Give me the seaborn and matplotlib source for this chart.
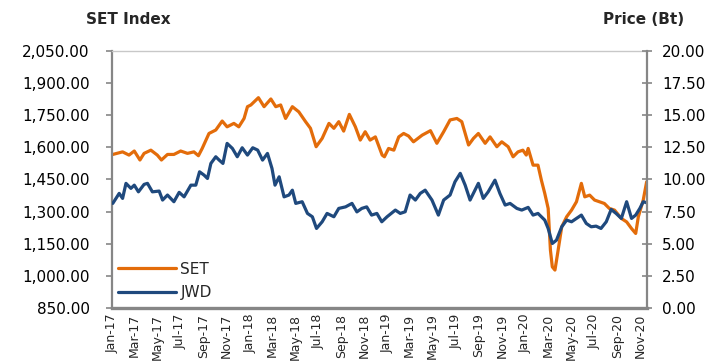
import matplotlib
matplotlib.use('Agg')
import matplotlib.pyplot as plt
import matplotlib.dates as mdates
import matplotlib.ticker as mticker
import seaborn as sns
import pandas as pd

# ---- data ----
set_dates = [
    "2017-01-03", "2017-01-29", "2017-02-15", "2017-03-01", "2017-03-16", "2017-03-27",
    "2017-04-14", "2017-05-01", "2017-05-12", "2017-05-28", "2017-06-14", "2017-07-02",
    "2017-07-20", "2017-08-06", "2017-08-18", "2017-08-28", "2017-09-15", "2017-10-03",
    "2017-10-20", "2017-11-02", "2017-11-20", "2017-12-03", "2017-12-17", "2017-12-26",
    "2018-01-04", "2018-01-24", "2018-02-08", "2018-02-26", "2018-03-11", "2018-03-24",
    "2018-04-06", "2018-04-24", "2018-05-11", "2018-05-29", "2018-06-11", "2018-06-26",
    "2018-07-12", "2018-07-30", "2018-08-12", "2018-08-25", "2018-09-07", "2018-09-22",
    "2018-10-08", "2018-10-21", "2018-11-03", "2018-11-16", "2018-11-30", "2018-12-18",
    "2018-12-24", "2019-01-04", "2019-01-18", "2019-01-31", "2019-02-13", "2019-02-26",
    "2019-03-11", "2019-04-03", "2019-04-25", "2019-05-12", "2019-05-30", "2019-06-16",
    "2019-07-04", "2019-07-17", "2019-08-04", "2019-08-17", "2019-08-30", "2019-09-17",
    "2019-09-30", "2019-10-18", "2019-10-31", "2019-11-17", "2019-11-30", "2019-12-13",
    "2019-12-26", "2020-01-04", "2020-01-09", "2020-01-22", "2020-02-04", "2020-02-13",
    "2020-02-22", "2020-03-02", "2020-03-08", "2020-03-13", "2020-03-20", "2020-03-27",
    "2020-04-07", "2020-04-20", "2020-05-03", "2020-05-16", "2020-05-29", "2020-06-07",
    "2020-06-20", "2020-07-03", "2020-07-16", "2020-07-29", "2020-08-11", "2020-08-25",
    "2020-09-12", "2020-09-26", "2020-10-09", "2020-10-20", "2020-10-27", "2020-11-09",
    "2020-11-18",
]
set_values = [
    1567, 1579, 1564, 1583, 1541, 1572,
    1587, 1564, 1541, 1567, 1567, 1583,
    1572, 1579, 1561, 1595, 1665, 1681,
    1723, 1696, 1712, 1696, 1735, 1790,
    1798, 1832, 1790, 1826, 1790, 1798,
    1735, 1790, 1766, 1720, 1689, 1603,
    1642, 1712, 1689, 1720, 1676, 1754,
    1696, 1634, 1673, 1634, 1649, 1564,
    1556, 1595, 1587, 1649, 1665, 1653,
    1626, 1657, 1678, 1619, 1673, 1728,
    1735, 1720, 1611, 1642, 1665, 1619,
    1649, 1603, 1626, 1603, 1556, 1579,
    1587, 1564, 1595, 1517, 1517, 1447,
    1385, 1315, 1120, 1042, 1027, 1104,
    1229, 1276, 1307, 1346, 1432, 1369,
    1377, 1354, 1346, 1338, 1315, 1307,
    1268, 1252, 1221, 1198, 1276, 1354,
    1439,
]

jwd_dates = [
    "2017-01-03", "2017-01-20", "2017-01-29", "2017-02-07", "2017-02-20", "2017-03-01",
    "2017-03-12", "2017-03-27", "2017-04-05", "2017-04-18", "2017-05-06", "2017-05-15",
    "2017-05-28", "2017-06-14", "2017-06-28", "2017-07-11", "2017-07-29", "2017-08-11",
    "2017-08-21", "2017-09-02", "2017-09-11", "2017-09-20", "2017-10-03", "2017-10-12",
    "2017-10-22", "2017-11-02", "2017-11-16", "2017-11-29", "2017-12-12", "2017-12-26",
    "2018-01-09", "2018-01-22", "2018-02-04", "2018-02-17", "2018-03-01", "2018-03-09",
    "2018-03-20", "2018-04-02", "2018-04-15", "2018-04-24", "2018-05-03", "2018-05-20",
    "2018-06-03", "2018-06-16", "2018-06-27", "2018-07-12", "2018-07-25", "2018-08-12",
    "2018-08-25", "2018-09-12", "2018-09-29", "2018-10-12", "2018-10-25", "2018-11-07",
    "2018-11-20", "2018-12-04", "2018-12-17", "2018-12-31", "2019-01-22", "2019-02-04",
    "2019-02-17", "2019-03-02", "2019-03-16", "2019-03-29", "2019-04-11", "2019-04-29",
    "2019-05-16", "2019-05-30", "2019-06-16", "2019-06-29", "2019-07-13", "2019-07-26",
    "2019-08-08", "2019-08-21", "2019-08-30", "2019-09-12", "2019-09-25", "2019-10-13",
    "2019-10-26", "2019-11-09", "2019-11-22", "2019-12-10", "2019-12-23", "2020-01-09",
    "2020-01-22", "2020-02-04", "2020-02-22", "2020-03-02", "2020-03-13", "2020-03-24",
    "2020-04-07", "2020-04-20", "2020-05-03", "2020-05-16", "2020-05-29", "2020-06-11",
    "2020-06-24", "2020-07-07", "2020-07-20", "2020-08-03", "2020-08-16", "2020-08-29",
    "2020-09-12", "2020-09-26", "2020-10-09", "2020-10-20", "2020-10-31", "2020-11-09",
    "2020-11-18",
]
jwd_values = [
    8.14, 8.92, 8.53, 9.70, 9.31, 9.56,
    9.04, 9.62, 9.70, 9.04, 9.10, 8.40,
    8.79, 8.27, 9.00, 8.65, 9.56, 9.56,
    10.60, 10.34, 10.08, 11.25, 11.77, 11.51,
    11.25, 12.81, 12.42, 11.77, 12.47, 11.90,
    12.47, 12.29, 11.51, 12.03, 10.86, 9.56,
    10.21, 8.65, 8.79, 9.17, 8.14, 8.27,
    7.36, 7.10, 6.19, 6.71, 7.36, 7.10,
    7.75, 7.87, 8.14, 7.48, 7.75, 7.87,
    7.23, 7.36, 6.71, 7.10, 7.62, 7.36,
    7.49, 8.79, 8.40, 8.92, 9.17, 8.40,
    7.23, 8.40, 8.79, 9.82, 10.48, 9.56,
    8.40, 9.17, 9.70, 8.53, 9.04, 9.95,
    8.92, 8.01, 8.14, 7.75, 7.62, 7.83,
    7.23, 7.36, 6.84, 6.19, 5.02, 5.28,
    6.32, 6.84, 6.71, 6.97, 7.23, 6.58,
    6.32, 6.37, 6.19, 6.71, 7.67, 7.36,
    6.97, 8.27, 6.97, 7.23, 7.75, 8.27,
    8.19,
]

left_ticks = [850, 1000, 1150, 1300, 1450, 1600, 1750, 1900, 2050]
right_ticks = [0, 2.5, 5, 7.5, 10, 12.5, 15, 17.5, 20]
left_title = "SET Index"
right_title = "Price (Bt)"
series_names = ["SET", "JWD"]

ORANGE = "#E36C0A"
BLUE = "#1F497D"
GRAY = "#868686"

sns.set_style("white")
plt.rcParams['font.family'] = ['DejaVu Sans']

fig = plt.figure(figsize=(7.26, 3.62), dpi=100)
ax = fig.add_axes([0.1543, 0.1492, 0.7369, 0.7099])
ax2 = ax.twinx()

df_set = pd.DataFrame({"date": pd.to_datetime(set_dates), "value": set_values})
df_jwd = pd.DataFrame({"date": pd.to_datetime(jwd_dates), "value": jwd_values})

sns.lineplot(data=df_set, x="date", y="value", ax=ax, color=ORANGE, linewidth=2.3, legend=False)
sns.lineplot(data=df_jwd, x="date", y="value", ax=ax2, color=BLUE, linewidth=2.3, legend=False)

ax.set_xlim(pd.Timestamp("2017-01-01"), pd.Timestamp("2020-11-19"))
ax.set_ylim(850, 2050)
ax2.set_ylim(0, 20)
for a in (ax, ax2):
    a.set_xlabel("")
    a.set_ylabel("")
    a.grid(False)

ax.set_yticks(left_ticks)
ax.yaxis.set_major_formatter(mticker.FuncFormatter(lambda v, p: f"{v:,.2f}"))
ax2.set_yticks(right_ticks)
ax2.yaxis.set_major_formatter(mticker.FuncFormatter(lambda v, p: f"{v:.2f}"))

ax.xaxis.set_major_locator(mdates.MonthLocator(bymonth=[1, 3, 5, 7, 9, 11]))
ax.xaxis.set_major_formatter(mdates.DateFormatter("%b-%y"))

ax.tick_params(axis="y", direction="out", length=4, width=1.2, color=GRAY,
               pad=12, labelsize=11, labelcolor="black", left=True, right=False)
ax2.tick_params(axis="y", direction="inout", length=7, width=1.2, color=GRAY,
                pad=7.5, labelsize=11, labelcolor="black", right=True)
ax.tick_params(axis="x", length=0, pad=4, labelsize=9, labelrotation=90, bottom=True)

# spines
for s in ("left", "top", "bottom", "right"):
    ax2.spines[s].set_visible(False)
ax.spines["right"].set_visible(False)
ax2.spines["right"].set_visible(True)
ax2.spines["right"].set_color(GRAY)
ax2.spines["right"].set_linewidth(1.6)
ax.spines["left"].set_color(GRAY)
ax.spines["left"].set_linewidth(1.6)
ax.spines["bottom"].set_color(GRAY)
ax.spines["bottom"].set_linewidth(2.4)
ax.spines["top"].set_color("#c8c8c8")
ax.spines["top"].set_linewidth(1.0)

# titles
fig.text(128 / 726, 1 - 20 / 362, left_title, fontsize=11, fontweight="bold",
         ha="center", va="center")
fig.text(644 / 726, 1 - 20 / 362, right_title, fontsize=11, fontweight="bold",
         ha="center", va="center")

# legend
h1 = ax.get_lines()[0]
h2 = ax2.get_lines()[0]
ax2.legend([h1, h2], series_names, loc="lower left", bbox_to_anchor=(0.008, 0.025),
           frameon=False, fontsize=11, handlelength=3.8, handletextpad=0.3,
           labelspacing=0.55, borderpad=0.1, borderaxespad=0)

fig.savefig("out.png", dpi=100)
